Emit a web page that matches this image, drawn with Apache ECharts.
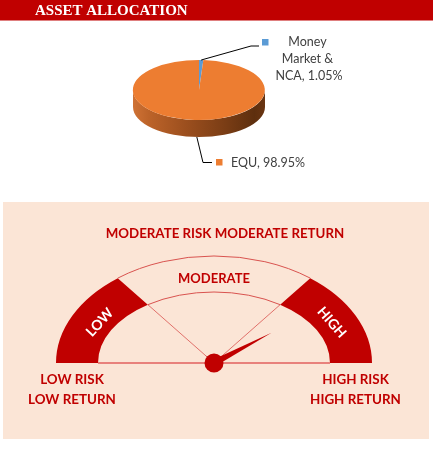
<!DOCTYPE html>
<html>
<head>
<meta charset="utf-8">
<script src="https://cdn.jsdelivr.net/npm/echarts@6/dist/echarts.min.js"></script>
<style>
  html, body { margin: 0; padding: 0; background: #fff; }
  #main { width: 433px; height: 472px; }
</style>
</head>
<body>
<div id="main"></div>
<script>
// asset allocation (3d pie)
var assetNames = ['Money Market & NCA', 'EQU'];
var assetValues = [1.05, 98.95];
var assetColors = ['#5B9BD5', '#ED7D31'];

// risk-o-meter
var riskBands = ['LOW', 'MODERATE', 'HIGH'];
var bandEdges = [0, 23, 77, 100];
var needleValue = 84.6;
var meterTitle = 'MODERATE RISK MODERATE RETURN';
var leftCaption = ['LOW RISK', 'LOW RETURN'];
var rightCaption = ['HIGH RISK', 'HIGH RETURN'];

var RED = '#C00000';
var TXT = '#404040';

(function () {
    var myChart = echarts.init(document.getElementById('main'), null, { renderer: 'canvas' });

    // ---------- pie helpers ----------
    var PIE = { cx: 199, cy: 90, rx: 66, ry: 30, depth: 17 };
    var total = assetValues.reduce(function (a, b) { return a + b; }, 0);
    var startAng = [];
    var acc = 0;
    assetValues.forEach(function (v) {
        startAng.push(acc);
        acc += v / total * 360;
    });

    // t = degrees clockwise from 12 o'clock
    function ellPt(t, dy) {
        var r = t * Math.PI / 180;
        return [PIE.cx + PIE.rx * Math.sin(r), PIE.cy - PIE.ry * Math.cos(r) + (dy || 0)];
    }
    function f(p) { return p[0].toFixed(2) + ' ' + p[1].toFixed(2); }

    // where the labels sit (layout only)
    var labelLayout = [
        { elbow: [251, 46], end: [259, 46], box: [262, 39], text: [309, 33.5], align: 'center', va: 'top', width: 72, lineAt: 'top' },
        { elbow: [203, 162.5], end: [212, 162.5], box: [216, 159], text: [231, 163], align: 'left', va: 'middle', width: null, lineAt: 'bottom' }
    ];

    var sideGrad = new echarts.graphic.LinearGradient(PIE.cx - PIE.rx, 0, PIE.cx + PIE.rx, 0, [
        { offset: 0, color: '#CF7235' },
        { offset: 0.12, color: '#BC6329' },
        { offset: 0.4, color: '#9C4F1E' },
        { offset: 0.7, color: '#7A3D15' },
        { offset: 0.92, color: '#5E2F0E' },
        { offset: 1, color: '#6A3512' }
    ], true);

    function renderPie(params, api) {
        var i = params.dataIndex;
        var a = startAng[i];
        var b = a + api.value(0) / total * 360;
        var children = [];

        // front wall
        var s = Math.max(a, 90), e = Math.min(b, 270);
        if (s < e) {
            children.push({
                type: 'path',
                shape: {
                    pathData: 'M' + f(ellPt(s)) + ' A' + PIE.rx + ' ' + PIE.ry + ' 0 0 1 ' + f(ellPt(e)) +
                        ' L' + f(ellPt(e, PIE.depth)) + ' A' + PIE.rx + ' ' + PIE.ry + ' 0 0 0 ' + f(ellPt(s, PIE.depth)) + ' Z'
                },
                style: { fill: sideGrad }
            });
        }
        // top face
        children.push({
            type: 'path',
            shape: {
                pathData: 'M' + PIE.cx + ' ' + PIE.cy + ' L' + f(ellPt(a)) + ' A' + PIE.rx + ' ' + PIE.ry + ' 0 ' +
                    (b - a > 180 ? 1 : 0) + ' 1 ' + f(ellPt(b)) + ' Z'
            },
            style: { fill: assetColors[i] }
        });

        // label line + marker + text
        var L = labelLayout[i];
        var mid = (a + b) / 2;
        var p0 = L.lineAt === 'top' ? ellPt(mid) : ellPt(mid, PIE.depth);
        children.push({
            type: 'polyline',
            shape: { points: [p0, L.elbow, L.end] },
            style: { stroke: '#000', lineWidth: 1, fill: null }
        });
        children.push({
            type: 'rect',
            shape: { x: L.box[0], y: L.box[1], width: 6.5, height: 6.5 },
            style: { fill: assetColors[i] }
        });
        var ts = {
            text: assetNames[i] + ', ' + api.value(0).toFixed(2) + '%',
            lineHeight: 17,
            fill: TXT,
            font: '12.5px Lato',
            align: L.align,
            verticalAlign: L.va
        };
        if (L.width) {
            ts.width = L.width;
            ts.overflow = 'break';
        }
        children.push({ type: 'text', x: L.text[0], y: L.text[1], style: ts });
        return { type: 'group', children: children };
    }

    // ---------- meter helpers ----------
    var M = { cx: 214, cy: 363, Rx: 158, Ry: 107, rx: 116, ry: 71 };

    function phi(v) { return (180 - 1.8 * v) * Math.PI / 180; }
    function onEll(v, ax, ay) {
        var p = phi(v);
        var c = Math.cos(p), s = Math.sin(p);
        var r = 1 / Math.sqrt(c * c / (ax * ax) + s * s / (ay * ay));
        return [M.cx + r * c, M.cy - r * s, r];
    }

    var bandFill = [RED, null, RED];
    var thin = '#D9534F';

    function renderMeter(params, api) {
        var i = params.dataIndex;
        var va = bandEdges[i], vb = bandEdges[i + 1];
        var oa = onEll(va, M.Rx, M.Ry), ob = onEll(vb, M.Rx, M.Ry);
        var ia = onEll(va, M.rx, M.ry), ib = onEll(vb, M.rx, M.ry);
        var children = [];

        if (bandFill[i]) {
            children.push({
                type: 'path',
                shape: {
                    pathData: 'M' + f(oa) + ' A' + M.Rx + ' ' + M.Ry + ' 0 0 1 ' + f(ob) +
                        ' L' + f(ib) + ' A' + M.rx + ' ' + M.ry + ' 0 0 0 ' + f(ia) + ' Z'
                },
                style: { fill: bandFill[i] }
            });
        } else {
            children.push({
                type: 'path',
                shape: { pathData: 'M' + f(oa) + ' A' + M.Rx + ' ' + M.Ry + ' 0 0 1 ' + f(ob) },
                style: { stroke: thin, lineWidth: 1, fill: null }
            });
            children.push({
                type: 'path',
                shape: { pathData: 'M' + f(ia) + ' A' + M.rx + ' ' + M.ry + ' 0 0 1 ' + f(ib) },
                style: { stroke: thin, lineWidth: 1, fill: null }
            });
            children.push({
                type: 'polyline',
                shape: { points: [ia.slice(0, 2), [M.cx, M.cy], ib.slice(0, 2)] },
                style: { stroke: thin, lineWidth: 0.8, fill: null }
            });
        }

        // band label
        var vm = (va + vb) / 2;
        var im = onEll(vm, M.rx, M.ry), om = onEll(vm, M.Rx, M.Ry);
        var rm = im[2] + 0.42 * (om[2] - im[2]);
        var pm = phi(vm);
        var isSide = bandFill[i] !== null;
        var rot = isSide ? (vm < 50 ? 0.82 : -0.85) : 0;
        children.push({
            type: 'text',
            x: M.cx + rm * Math.cos(pm) + (isSide ? (vm < 50 ? 1 : 2.5) : 0),
            y: M.cy - rm * Math.sin(pm) + (isSide ? 3 : 2),
            rotation: rot,
            style: {
                text: riskBands[i],
                fill: isSide ? '#fff' : RED,
                font: isSide ? 'bold 14px Lato' : 'bold 13px Lato',
                align: 'center',
                verticalAlign: 'middle'
            }
        });
        return { type: 'group', children: children };
    }

    function renderNeedle(params, api) {
        var v = api.value(0);
        var p = phi(v);
        var len = 65, hw = 3.4;
        var tip = [M.cx + len * Math.cos(p), M.cy - len * Math.sin(p)];
        var nx = Math.sin(p), ny = Math.cos(p);
        var l0 = onEll(0, M.rx, M.ry), l1 = onEll(100, M.rx, M.ry);
        return {
            type: 'group',
            children: [
                {
                    type: 'line',
                    shape: { x1: l0[0], y1: M.cy, x2: l1[0], y2: M.cy },
                    style: { stroke: '#E8817C', lineWidth: 2 }
                },
                {
                    type: 'polygon',
                    shape: { points: [[M.cx + hw * nx, M.cy + hw * ny], tip, [M.cx - hw * nx, M.cy - hw * ny]] },
                    style: { fill: RED }
                },
                {
                    type: 'circle',
                    shape: { cx: M.cx, cy: M.cy, r: 9.5 },
                    style: { fill: RED }
                }
            ]
        };
    }

    var capFont = 'bold 13.4px Lato';

    var option = {
        animation: false,
        graphic: [
            { type: 'rect', shape: { x: 0, y: 0, width: 433, height: 20.5 }, style: { fill: RED } },
            {
                type: 'text', x: 35, y: 11,
                style: { text: 'ASSET ALLOCATION', fill: '#fff', font: 'bold 15px "Liberation Serif"', align: 'left', verticalAlign: 'middle' }
            },
            { type: 'rect', shape: { x: 3, y: 202, width: 426, height: 237 }, style: { fill: '#FBE5D6' } },
            {
                type: 'text', x: 225, y: 234,
                style: { text: meterTitle, fill: RED, font: 'bold 13.3px Lato', align: 'center', verticalAlign: 'middle' }
            },
            {
                type: 'text', x: 72, y: 380 - 9.75,
                style: { text: leftCaption.join('\n'), lineHeight: 19.5, fill: RED, font: capFont, align: 'center', verticalAlign: 'top' }
            },
            {
                type: 'text', x: 355.5, y: 380 - 9.75,
                style: { text: rightCaption.join('\n'), lineHeight: 19.5, fill: RED, font: capFont, align: 'center', verticalAlign: 'top' }
            }
        ],
        series: [
            {
                type: 'custom',
                name: 'Asset Allocation',
                coordinateSystem: 'none',
                renderItem: renderPie,
                data: assetValues
            },
            {
                type: 'custom',
                name: 'Risk',
                coordinateSystem: 'none',
                renderItem: renderMeter,
                data: riskBands.map(function (n, k) { return [bandEdges[k], bandEdges[k + 1]]; })
            },
            {
                type: 'custom',
                name: 'Needle',
                coordinateSystem: 'none',
                renderItem: renderNeedle,
                data: [needleValue],
                z: 3
            }
        ]
    };

    myChart.setOption(option);
    window.addEventListener('resize', function () {
        myChart.resize();
    });
})();
</script>
</body>
</html>
